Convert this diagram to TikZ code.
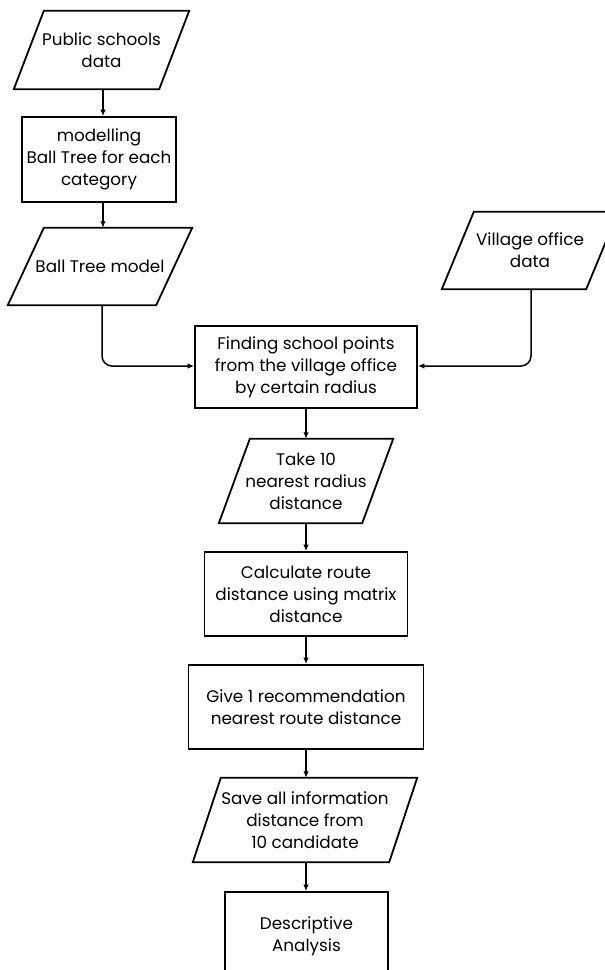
\documentclass[tikz,border=0pt]{standalone}
\usepackage{fontspec}
\setmainfont{Poppins}
\usetikzlibrary{arrows.meta,calc}
\tikzset{
  proc/.style={draw, line width=1.8pt, minimum width=#1, inner sep=0pt, align=center, font=\fontsize{16.8}{22}\selectfont},
  io/.style={minimum width=#1, inner sep=0pt, align=center, font=\fontsize{16.8}{22}\selectfont},
  outline/.style={draw, line width=1.8pt, line join=miter},
  conn/.style={draw, line width=1.5pt, -{Latex[length=6.5pt,width=5.5pt]}, rounded corners=10pt},
}
\newcommand{\paragon}[2]{%
  \draw[outline] ([xshift=#2]#1.north west) -- ([xshift=#2]#1.north east) -- ([xshift=-#2]#1.south east) -- ([xshift=-#2]#1.south west) -- cycle;}
\begin{document}
\begin{tikzpicture}[x=1pt,y=-1pt]
\useasboundingbox (0,0) rectangle (605,970);
% input/output shapes (parallelograms)
\node[io=145, minimum height=78] (ps) at (101.5,50) {Public schools\\data};
\paragon{ps}{15}
\node[proc=154, minimum height=85] (mb) at (99,159.5) {modelling\\Ball Tree for each\\category};
\node[io=148, minimum height=77] (bt) at (100,266.5) {Ball Tree model};
\paragon{bt}{18}
\node[io=144, minimum height=77] (vo) at (530,250.5) {Village office\\data};
\paragon{vo}{16}
\node[proc=222, minimum height=82] (fs) at (306,367) {Finding school points\\from the village office\\by certain radius};
\node[io=143, minimum height=84] (tk) at (306,481) {Take 10\\nearest radius\\distance};
\paragon{tk}{15.5}
\node[proc=203, minimum height=84] (cr) at (306,594) {Calculate route\\distance using matrix\\distance};
\node[proc=235, minimum height=84] (gr) at (306,707) {Give 1 recommendation\\nearest route distance};
\node[io=196, minimum height=84] (sa) at (305,820) {Save all information\\distance from\\10 candidate};
\paragon{sa}{14}
\node[proc=163, minimum height=88] (da) at (306.5,936) {Descriptive\\Analysis};
% connectors
\coordinate (top) at (103,0);
\draw[conn] (ps.south -| top) -- (mb.north -| top);
\draw[conn] (mb.south -| top) -- (bt.north -| top);
\coordinate (btc) at (102,366);
\draw[conn] (bt.south -| btc) -- (btc) -- (fs.west |- btc);
\coordinate (voc) at (531,366);
\draw[conn] (vo.south -| voc) -- (voc) -- (fs.east |- voc);
\draw[conn] (fs.south) -- (fs.south |- tk.north);
\draw[conn] (fs.south |- tk.south) -- (fs.south |- cr.north);
\draw[conn] (fs.south |- cr.south) -- (fs.south |- gr.north);
\draw[conn] (fs.south |- gr.south) -- (fs.south |- sa.north);
\draw[conn] (fs.south |- sa.south) -- (fs.south |- da.north);
\end{tikzpicture}
\end{document}
